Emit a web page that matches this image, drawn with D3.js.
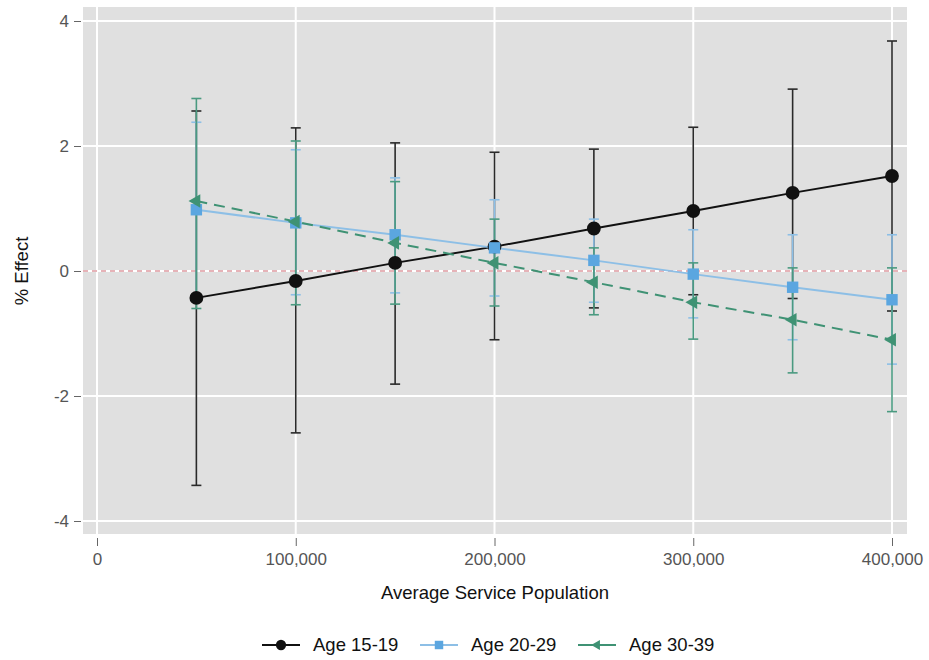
<!DOCTYPE html>
<html>
<head>
<meta charset="utf-8">
<script src="https://cdn.jsdelivr.net/npm/d3@7"></script>
<style>
  body { margin: 0; background: #fff; }
  svg { font-family: "Liberation Sans", Arial, sans-serif; }
</style>
</head>
<body>
<div id="chart"></div>
<script>
"use strict";

// data
var populations = [50000, 100000, 150000, 200000, 250000, 300000, 350000, 400000];
var xTicks = [0, 100000, 200000, 300000, 400000];
var yTicks = [-4, -2, 0, 2, 4];

var age1519 = [-0.43, -0.16, 0.13, 0.39, 0.68, 0.96, 1.25, 1.52];
var age1519Lo = [-3.43, -2.59, -1.81, -1.10, -0.59, -0.38, -0.44, -0.64];
var age1519Hi = [2.56, 2.29, 2.05, 1.90, 1.95, 2.30, 2.91, 3.68];

var age2029 = [0.98, 0.77, 0.58, 0.37, 0.17, -0.05, -0.26, -0.46];
var age2029Lo = [-0.45, -0.38, -0.35, -0.40, -0.50, -0.75, -1.10, -1.49];
var age2029Hi = [2.38, 1.94, 1.49, 1.14, 0.83, 0.66, 0.58, 0.58];

var age3039 = [1.12, 0.79, 0.45, 0.13, -0.18, -0.50, -0.78, -1.10];
var age3039Lo = [-0.60, -0.54, -0.53, -0.56, -0.70, -1.09, -1.63, -2.25];
var age3039Hi = [2.76, 2.08, 1.43, 0.83, 0.37, 0.13, 0.05, 0.05];

var seriesNames = ["Age 15-19", "Age 20-29", "Age 30-39"];

// build series
var series = [
  { name: seriesNames[0], y: age1519, lo: age1519Lo, hi: age1519Hi,
    color: "#111111", barColor: "#2a2a2a", dash: null, symbol: d3.symbolCircle, size: 150, rotate: 0 },
  { name: seriesNames[1], y: age2029, lo: age2029Lo, hi: age2029Hi,
    color: "#8dbfe6", barColor: "#8dbfe6", markerColor: "#5ba6e0", dash: null, symbol: d3.symbolSquare, size: 130, rotate: 0 },
  { name: seriesNames[2], y: age3039, lo: age3039Lo, hi: age3039Hi,
    color: "#3f9274", barColor: "#4a9a80", dash: "11,7", symbol: d3.symbolTriangle, size: 80, rotate: -90 }
];

var width = 929;
var height = 660;

var x = d3.scaleLinear().domain([0, 400000]).range([97, 892]);
var y = d3.scaleLinear().domain([-4, 4]).range([521, 21]);

var svg = d3.select("#chart")
  .append("svg")
  .attr("width", width)
  .attr("height", height);

// panel
var panelLeft = x(0) - 14;
var panelRight = x(400000) + 15;
var panelTop = y(4) - 14;
var panelBottom = y(-4) + 13;

svg.append("rect")
  .attr("x", panelLeft)
  .attr("y", panelTop)
  .attr("width", panelRight - panelLeft)
  .attr("height", panelBottom - panelTop)
  .attr("fill", "#e0e0e0");

// grid
svg.append("g")
  .selectAll("line")
  .data(xTicks)
  .enter()
  .append("line")
    .attr("x1", function(d) { return x(d); })
    .attr("x2", function(d) { return x(d); })
    .attr("y1", panelTop)
    .attr("y2", panelBottom)
    .attr("stroke", "#ffffff")
    .attr("stroke-width", 2);

svg.append("g")
  .selectAll("line")
  .data(yTicks)
  .enter()
  .append("line")
    .attr("x1", panelLeft)
    .attr("x2", panelRight)
    .attr("y1", function(d) { return y(d); })
    .attr("y2", function(d) { return y(d); })
    .attr("stroke", "#ffffff")
    .attr("stroke-width", 2);

// zero reference line
svg.append("line")
  .attr("x1", panelLeft)
  .attr("x2", panelRight)
  .attr("y1", y(0))
  .attr("y2", y(0))
  .attr("stroke", "#ffffff")
  .attr("stroke-width", 2);
svg.append("line")
  .attr("x1", panelLeft)
  .attr("x2", panelRight)
  .attr("y1", y(0))
  .attr("y2", y(0))
  .attr("stroke", "#e6b3b8")
  .attr("stroke-width", 2)
  .attr("stroke-dasharray", "5,4");

// axes
var xAxis = d3.axisBottom(x)
  .tickValues(xTicks)
  .tickSize(8)
  .tickPadding(7)
  .tickFormat(d3.format(","));

var xAxisG = svg.append("g")
  .attr("transform", "translate(0," + (panelBottom + 4) + ")")
  .call(xAxis);
xAxisG.select(".domain").remove();
xAxisG.selectAll(".tick line").attr("stroke", "#666").attr("stroke-width", 1);
xAxisG.selectAll(".tick text")
  .attr("fill", "#555")
  .style("font-size", "17px")
  .style("font-family", "Liberation Sans, Arial, sans-serif");

var yAxis = d3.axisLeft(y)
  .tickValues(yTicks)
  .tickSize(7)
  .tickPadding(5)
  .tickFormat(function(d) { return String(d); });

var yAxisG = svg.append("g")
  .attr("transform", "translate(" + (panelLeft - 2) + ",0)")
  .call(yAxis);
yAxisG.select(".domain").remove();
yAxisG.selectAll(".tick line").attr("stroke", "#666").attr("stroke-width", 1);
yAxisG.selectAll(".tick text")
  .attr("fill", "#555")
  .style("font-size", "17px")
  .style("font-family", "Liberation Sans, Arial, sans-serif");

// axis titles
svg.append("text")
  .attr("x", (panelLeft + panelRight) / 2)
  .attr("y", 599)
  .attr("text-anchor", "middle")
  .style("font-size", "18.5px")
  .attr("fill", "#111")
  .text("Average Service Population");

svg.append("text")
  .attr("transform", "translate(28," + y(0) + ") rotate(-90)")
  .attr("text-anchor", "middle")
  .style("font-size", "18.5px")
  .attr("fill", "#111")
  .text("% Effect");

// error bars
var capHalf = 5;
series.forEach(function(s) {
  var g = svg.append("g").attr("class", "bars");
  var rows = populations.map(function(p, i) {
    return { x: p, lo: s.lo[i], hi: s.hi[i] };
  });
  g.selectAll("line.v")
    .data(rows)
    .enter()
    .append("line")
      .attr("x1", function(d) { return x(d.x); })
      .attr("x2", function(d) { return x(d.x); })
      .attr("y1", function(d) { return y(d.lo); })
      .attr("y2", function(d) { return y(d.hi); })
      .attr("stroke", s.barColor)
      .attr("stroke-width", 1.6);
  ["lo", "hi"].forEach(function(key) {
    g.selectAll("line.cap-" + key)
      .data(rows)
      .enter()
      .append("line")
        .attr("x1", function(d) { return x(d.x) - capHalf; })
        .attr("x2", function(d) { return x(d.x) + capHalf; })
        .attr("y1", function(d) { return y(d[key]); })
        .attr("y2", function(d) { return y(d[key]); })
        .attr("stroke", s.barColor)
        .attr("stroke-width", 1.6);
  });
});

// connected lines
var line = d3.line()
  .x(function(d) { return x(d.x); })
  .y(function(d) { return y(d.y); });

series.forEach(function(s) {
  var rows = populations.map(function(p, i) { return { x: p, y: s.y[i] }; });
  svg.append("path")
    .datum(rows)
    .attr("d", line)
    .attr("fill", "none")
    .attr("stroke", s.color)
    .attr("stroke-width", 2)
    .attr("stroke-dasharray", s.dash);
});

// markers
series.forEach(function(s) {
  var sym = d3.symbol().type(s.symbol).size(s.size);
  svg.append("g")
    .selectAll("path")
    .data(populations.map(function(p, i) { return { x: p, y: s.y[i] }; }))
    .enter()
    .append("path")
      .attr("d", sym)
      .attr("transform", function(d) {
        return "translate(" + x(d.x) + "," + y(d.y) + ") rotate(" + s.rotate + ")";
      })
      .attr("fill", s.markerColor || s.color);
});

// legend
var legendY = 645;
var lineStarts = [262, 420, 578];
var legendItems = svg.append("g")
  .selectAll("g")
  .data(series)
  .enter()
  .append("g");

legendItems.each(function(s, i) {
  var item = d3.select(this);
  var x0 = lineStarts[i];
  item.append("line")
    .attr("x1", x0)
    .attr("x2", x0 + 38)
    .attr("y1", legendY)
    .attr("y2", legendY)
    .attr("stroke", s.color)
    .attr("stroke-width", 2);
  item.append("path")
    .attr("d", d3.symbol().type(s.symbol).size(s.size * 0.55))
    .attr("transform", "translate(" + (x0 + 19) + "," + legendY + ") rotate(" + s.rotate + ")")
    .attr("fill", s.markerColor || s.color);
  item.append("text")
    .attr("x", x0 + 51)
    .attr("y", legendY + 6)
    .style("font-size", "18.5px")
    .attr("fill", "#111")
    .text(s.name);
});
</script>
</body>
</html>
